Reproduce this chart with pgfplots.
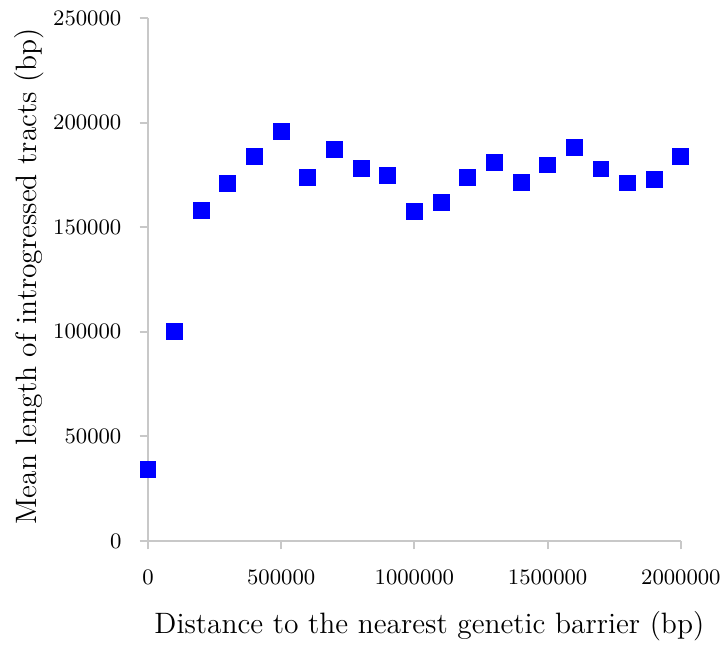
\documentclass[border=0pt]{standalone}
\usepackage{pgfplots}
\pgfplotsset{compat=1.18}
\definecolor{axgray}{RGB}{200,200,200}
\begin{document}
\begin{tikzpicture}
\useasboundingbox (-60.26pt,-42.75pt) rectangle (234.94pt,220.25pt);
\begin{axis}[
  at={(0,0)}, anchor=south west,
  scale only axis,
  width=217pt, height=212.95pt,
  xmin=0, xmax=2000000, ymin=0, ymax=250000,
  axis lines*=left,
  axis line style={axgray, line width=0.8pt},
  tick align=outside,
  major tick length=3.4pt,
  tick style={axgray, line width=0.8pt},
  xtick={0,500000,1000000,1500000,2000000},
  ytick={0,50000,100000,150000,200000,250000},
  scaled ticks=false,
  ticklabel style={font=\fontsize{9.2}{11}\selectfont},
  xticklabel style={/pgf/number format/fixed,/pgf/number format/1000 sep={}, yshift=-5pt},
  yticklabel style={/pgf/number format/fixed,/pgf/number format/1000 sep={}, xshift=-3.9pt},
  xlabel={Distance to the nearest genetic barrier (bp)},
  ylabel={Mean length of introgressed tracts (bp)},
  every axis x label/.style={at={(axis description cs:0.528,-0.1761)}, anchor=base, font=\large},
  every axis y label/.style={at={(axis description cs:-0.2083,0.506)}, rotate=90, anchor=base, font=\large},
  clip=false,
]
\addplot[only marks, mark=square*, mark size=3.25pt, color=blue, mark options={draw=blue, fill=blue}] coordinates {
(0,34000)
(100000,100200)
(200000,157800)
(300000,170800)
(400000,183600)
(500000,195500)
(600000,173500)
(700000,186900)
(800000,178200)
(900000,174500)
(1000000,157300)
(1100000,162000)
(1200000,173500)
(1300000,180700)
(1400000,171500)
(1500000,179700)
(1600000,188300)
(1700000,177800)
(1800000,171100)
(1900000,173000)
(2000000,183600)
};
\end{axis}
\end{tikzpicture}
\end{document}
